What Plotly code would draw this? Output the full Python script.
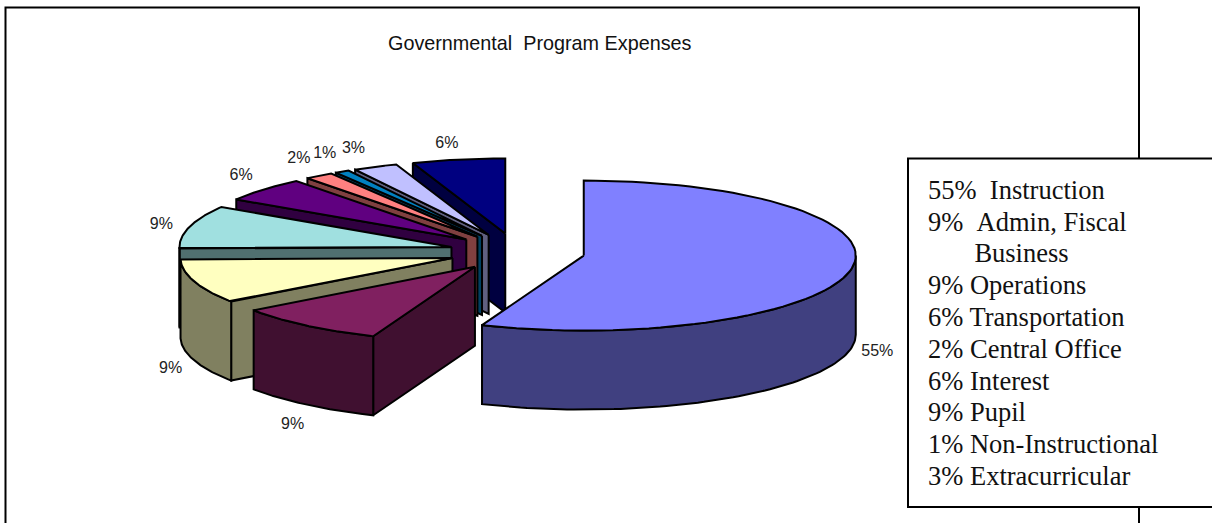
import numpy as np
import plotly.graph_objects as go

# Slices in clockwise order starting from twelve o'clock
pie_values = [55, 9, 9, 9, 6, 2, 1, 3, 6]
pie_labels = ["55%", "9%", "9%", "9%", "6%", "2%", "1%", "3%", "6%"]
top_colors = ["#8080FF", "#802060", "#FFFFC0", "#A0E0E0", "#600080",
              "#FF8080", "#0080C0", "#C0C0FF", "#000080"]
side_colors = ["#404080", "#401030", "#808060", "#507070", "#300040",
               "#804040", "#004060", "#606080", "#000040"]
# Hand placement of each percentage label relative to its default spot
label_nudge_x = [1, 2, 1, -3, -3, -5, -4, -11, -7]
label_nudge_y = [-1, 5, 1, 4, 0, -2, -2, -2, 0]

# Text box beside the pie
legend_lines = [
    "55%\u00a0\u00a0Instruction",
    "9%\u00a0\u00a0Admin, Fiscal",
    "\u00a0\u00a0\u00a0\u00a0\u00a0\u00a0\u00a0Business",
    "9% Operations",
    "6% Transportation",
    "2% Central Office",
    "6% Interest",
    "9% Pupil",
    "1% Non-Instructional",
    "3% Extracurricular",
]
title_text = "Governmental\u00a0\u00a0Program Expenses"

# Projection of the tilted, exploded pie onto the page
WIDTH, HEIGHT = 1212, 523
CENTER_X, CENTER_Y = 517, 252
RADIUS_X, RADIUS_Y = 272, 75
EXPLODE = 68
DEPTH = 79


def view_angle(turn_deg):
    """Foreshortening of the tilted view: the near and left parts of the pie open up."""
    half = np.abs(np.sin(np.radians(turn_deg) / 2))
    return turn_deg + 4.0 * half + 5.0 * np.exp(-((turn_deg - 290) / 38) ** 2)


def rim_point(apex, deg):
    a = np.radians(deg)
    return apex[0] + RADIUS_X * np.sin(a), apex[1] - RADIUS_Y * np.cos(a)


def add_polygon(fig, xs, ys, color):
    fig.add_trace(go.Scatter(
        x=list(xs), y=list(ys), mode="lines", fill="toself", fillcolor=color,
        line=dict(color="#000000", width=2), hoverinfo="skip", showlegend=False,
    ))


fig = go.Figure()

cumulative = np.cumsum([0] + pie_values) / sum(pie_values) * 360
starts = [float(view_angle(c)) if c > 0 else 0.0 for c in cumulative[:-1]]
ends = [float(view_angle(c)) if c < 360 else 360.0 for c in cumulative[1:]]

label_x, label_y = [], []
# Back slices first, so that the nearer ones paint over them
draw_order = list(range(len(pie_values) - 1, -1, -1))

for i in draw_order:
    start, end = starts[i], ends[i]
    mid = (start + end) / 2
    mid_rad = np.radians(mid)
    apex = (CENTER_X + EXPLODE * np.sin(mid_rad),
            CENTER_Y - EXPLODE * RADIUS_Y / RADIUS_X * np.cos(mid_rad))
    arc = np.linspace(start, end, 80)
    rim_x, rim_y = rim_point(apex, arc)

    # Radial cut face along the leading edge, when it turns towards the viewer
    if np.sin(np.radians(start)) < -1e-6:
        sx, sy = rim_point(apex, start)
        add_polygon(fig, [apex[0], sx, sx, apex[0], apex[0]],
                    [apex[1], sy, sy + DEPTH, apex[1] + DEPTH, apex[1]],
                    side_colors[i])

    # Outer wall: only the front half of the rim is visible
    lo, hi = max(start, 90), min(end, 270)
    if hi > lo:
        wall = np.linspace(lo, hi, 80)
        wx, wy = rim_point(apex, wall)
        add_polygon(fig, np.r_[wx, wx[::-1], wx[0]],
                    np.r_[wy, wy[::-1] + DEPTH, wy[0]], side_colors[i])

    # Top face
    add_polygon(fig, np.r_[apex[0], rim_x, apex[0]],
                np.r_[apex[1], rim_y, apex[1]], top_colors[i])

    # Percentage label just outside the rim, level with the wall if there is one
    mx, my = rim_point(apex, mid)
    if 90 < mid < 270:
        my += DEPTH
    s, c = np.sin(mid_rad), np.cos(mid_rad)
    label_x.append(mx + 26 * s + label_nudge_x[i])
    label_y.append(my - (16 + 8 * s * s) * c + label_nudge_y[i])

fig.add_trace(go.Scatter(
    x=label_x, y=label_y, mode="text",
    text=[pie_labels[i] for i in draw_order], textposition="middle center",
    textfont=dict(family="Liberation Sans, Arial, sans-serif", size=16, color="#222222"),
    hoverinfo="skip", showlegend=False,
))

annotations = [dict(
    x=540, y=43, xref="x", yref="y", text=title_text, showarrow=False,
    font=dict(family="Liberation Sans, Arial, sans-serif", size=19.8, color="#111111"),
)]
legend_y = [190, 222, 253, 285, 317, 349, 381, 412, 444, 476]
for line, y in zip(legend_lines, legend_y):
    annotations.append(dict(
        x=926, y=y, xref="x", yref="y", text=line, showarrow=False,
        xanchor="left", yanchor="middle",
        font=dict(family="Liberation Serif, Times New Roman, serif", size=26.5, color="#111111"),
    ))

shapes = [
    dict(type="rect", xref="x", yref="y", x0=5.5, y0=7.5, x1=1139, y1=560,
         line=dict(color="#000000", width=2), fillcolor="#FFFFFF", layer="below"),
    dict(type="rect", xref="x", yref="y", x0=908, y0=158.5, x1=1240, y1=507,
         line=dict(color="#000000", width=2), fillcolor="#FFFFFF", layer="below"),
]

fig.update_layout(
    width=WIDTH, height=HEIGHT, autosize=False,
    margin=dict(l=0, r=0, t=0, b=0),
    paper_bgcolor="#FFFFFF", plot_bgcolor="#FFFFFF",
    xaxis=dict(range=[0, WIDTH], visible=False, fixedrange=True),
    yaxis=dict(range=[HEIGHT, 0], visible=False, fixedrange=True),
    annotations=annotations, shapes=shapes, showlegend=False,
)

fig.write_html("out.html", config=dict(displayModeBar=False))
